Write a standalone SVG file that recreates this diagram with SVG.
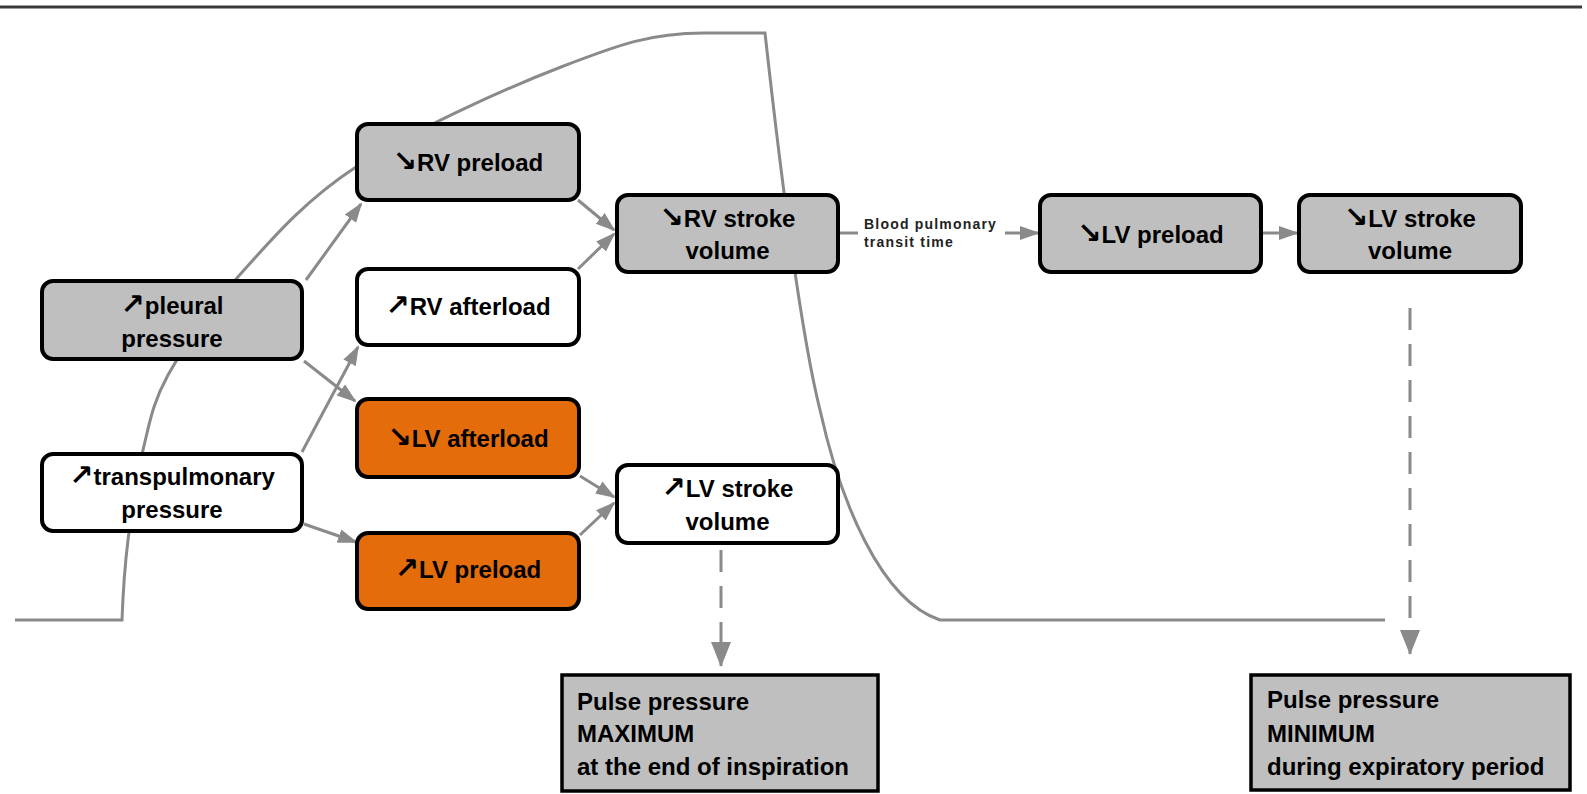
<svg xmlns="http://www.w3.org/2000/svg" width="1587" height="794" viewBox="0 0 1587 794">
<style>
.n{stroke:#000;stroke-width:4}
.p{stroke:#000;stroke-width:3.5}
.g{fill:#bfbfbf}
.w{fill:#fff}
.o{fill:#e46c0a}
text{font-family:"Liberation Sans",Arial,"DejaVu Sans",sans-serif;font-weight:bold;font-size:24px;fill:#000}
.a{font-family:"DejaVu Sans",sans-serif;font-weight:bold;font-size:29px}
.c{text-anchor:middle}
.s{font-size:14px;letter-spacing:1.2px;fill:#222}
.e{fill:none;stroke:#8a8a8a;stroke-width:3}
.d{stroke-dasharray:22 14}
</style>
<defs>
<marker id="ah" markerUnits="userSpaceOnUse" markerWidth="20" markerHeight="16" refX="18" refY="8" orient="auto"><path d="M0,1 L20,8 L0,15 z" fill="#8a8a8a"/></marker>
<marker id="ahd" markerUnits="userSpaceOnUse" markerWidth="26" markerHeight="24" refX="24" refY="12" orient="auto"><path d="M0,2 L25,12 L0,22 z" fill="#8a8a8a"/></marker>
</defs>
<rect width="1587" height="794" fill="#fff"/>
<line x1="0" y1="7" x2="1582" y2="7" stroke="#3a3a3a" stroke-width="3"/>
<path id="curve" class="e" d="M 15 620 H 122 C 123 593.3, 124.5 568.3, 128 540 C 131.5 511.7, 136.3 477.5, 143 450 C 149.7 422.5, 152.3 403.7, 168 375 C 183.7 346.3, 205.7 312.7, 237 278 C 268.3 243.3, 302 202.2, 356 167 C 410 131.8, 503 89.3, 561 67 C 619 44.7, 650 33, 704 33 H 765 C 778 150, 800 330, 820 410 C 840 500, 880 600, 940 620 H 1385"/>
<g id="connectors">
<path class="e" marker-end="url(#ah)" d="M306 280 L361 204"/>
<path class="e" marker-end="url(#ah)" d="M304 361 L355 401"/>
<path class="e" marker-end="url(#ah)" d="M302 452 L358 347"/>
<path class="e" marker-end="url(#ah)" d="M304 524 L356 542"/>
<path class="e" marker-end="url(#ah)" d="M578 200 L614 230"/>
<path class="e" marker-end="url(#ah)" d="M578 269 L614 234"/>
<path class="e" marker-end="url(#ah)" d="M580 476 L614 497"/>
<path class="e" marker-end="url(#ah)" d="M580 535 L614 503"/>
<path class="e" d="M840 233 L858 233"/>
<path class="e" marker-end="url(#ah)" d="M1005 233 L1038 233"/>
<path class="e" marker-end="url(#ah)" d="M1263 233 L1297 233"/>
<path class="e d" marker-end="url(#ahd)" d="M721 550 L721 666"/>
<path class="e d" marker-end="url(#ahd)" d="M1410 308 L1410 654"/>
<text class="s" x="864" y="229">Blood pulmonary</text>
<text class="s" x="864" y="247">transit time</text>
</g>
<g id="pleural"><rect class="n g" x="42" y="281" width="260" height="78" rx="11"/><text class="c" x="172" y="314"><tspan class="a">↗</tspan>pleural</text><text class="c" x="172" y="347">pressure</text></g>
<g id="transpulmonary"><rect class="n w" x="42" y="454" width="260" height="77" rx="11"/><text class="c" x="172" y="485"><tspan class="a">↗</tspan>transpulmonary</text><text class="c" x="172" y="518">pressure</text></g>
<g id="rv-preload"><rect class="n g" x="357" y="124" width="222" height="76" rx="11"/><text class="c" x="468" y="171"><tspan class="a">↘</tspan>RV preload</text></g>
<g id="rv-afterload"><rect class="n w" x="357" y="269" width="222" height="76" rx="11"/><text class="c" x="468" y="315"><tspan class="a">↗</tspan>RV afterload</text></g>
<g id="lv-afterload"><rect class="n o" x="357" y="399" width="222" height="78" rx="11"/><text class="c" x="468" y="447"><tspan class="a">↘</tspan>LV afterload</text></g>
<g id="lv-preload"><rect class="n o" x="357" y="533" width="222" height="76" rx="11"/><text class="c" x="468" y="578"><tspan class="a">↗</tspan>LV preload</text></g>
<g id="rv-stroke"><rect class="n g" x="617" y="195" width="221" height="77" rx="11"/><text class="c" x="727.5" y="227"><tspan class="a">↘</tspan>RV stroke</text><text class="c" x="727.5" y="259">volume</text></g>
<g id="lv-stroke"><rect class="n w" x="617" y="465" width="221" height="78" rx="11"/><text class="c" x="727.5" y="497"><tspan class="a">↗</tspan>LV stroke</text><text class="c" x="727.5" y="530">volume</text></g>
<g id="lv-preload-r"><rect class="n g" x="1040" y="195" width="221" height="77" rx="11"/><text class="c" x="1150.5" y="243"><tspan class="a">↘</tspan>LV preload</text></g>
<g id="lv-stroke-r"><rect class="n g" x="1299" y="195" width="222" height="77" rx="11"/><text class="c" x="1410" y="227"><tspan class="a">↘</tspan>LV stroke</text><text class="c" x="1410" y="259">volume</text></g>
<g id="pp-max"><rect class="p g" x="562" y="675" width="316" height="116"/><text x="577" y="710">Pulse pressure</text><text x="577" y="742">MAXIMUM</text><text x="577" y="775">at the end of inspiration</text></g>
<g id="pp-min"><rect class="p g" x="1251" y="675" width="319" height="115"/><text x="1267" y="708">Pulse pressure</text><text x="1267" y="742">MINIMUM</text><text x="1267" y="775">during expiratory period</text></g>
</svg>
